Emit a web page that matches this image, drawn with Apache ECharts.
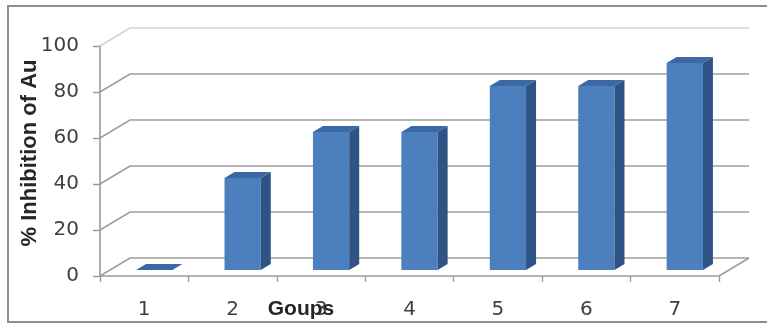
<!DOCTYPE html>
<html>
<head>
<meta charset="utf-8">
<script src="https://cdn.jsdelivr.net/npm/echarts@6/dist/echarts.min.js"></script>
<style>
  html, body { margin: 0; padding: 0; background: #ffffff; }
  #chart { width: 767px; height: 325px; }
</style>
</head>
<body>
<div id="chart"></div>
<script>
// Groups on the category axis
const categories = ['1', '2', '3', '4', '5', '6', '7'];
// % inhibition for each group
const inhibition = [0, 40, 60, 60, 80, 80, 90];
// value axis ticks
const yTicks = [0, 20, 40, 60, 80, 100];

// pseudo-3D depth of the plot box (pixels, towards the back wall)
const DX = 30, DY = -18;
const BAR_FRONT = '#4B7FBD', BAR_TOP = '#3C69A3', BAR_SIDE = '#2E5384';

const chart = echarts.init(document.getElementById('chart'));

function renderWall(params, api) {
  const cs = params.coordSys;
  const v = api.value(1);
  const y = api.coord([0, v])[1];
  const x0 = cs.x, x1 = cs.x + cs.width;
  const stroke = v === yTicks[yTicks.length - 1] ? '#d2d2d2' : '#9e9e9e';
  const children = [{
    type: 'polyline',
    shape: { points: [[x0, y], [x0 + DX, y + DY], [x1 + DX, y + DY]] },
    style: { stroke: stroke, lineWidth: 1.6, fill: null }
  }];
  if (v === yTicks[0]) {
    // right edge of the floor
    children.push({
      type: 'line',
      shape: { x1: x1, y1: y, x2: x1 + DX, y2: y + DY },
      style: { stroke: '#9e9e9e', lineWidth: 1.6 }
    });
  }
  return { type: 'group', children: children };
}

function renderBar(params, api) {
  const i = api.value(0), v = api.value(1);
  const base = api.coord([i, 0]);
  const top = api.coord([i, v]);
  const bw = api.size([1, 0])[0];
  const w = bw * 0.41;
  const ox = DX / 3, oy = DY / 3;
  const fx = base[0] - w / 2 + ox;
  const fy0 = base[1] + oy, fy1 = top[1] + oy;
  const children = [];
  if (fy0 - fy1 > 0.5) {
    children.push({
      type: 'rect',
      shape: { x: fx, y: fy1, width: w, height: fy0 - fy1 },
      style: { fill: BAR_FRONT }
    });
    children.push({
      type: 'polygon',
      shape: { points: [[fx + w, fy1], [fx + w + ox, fy1 + oy], [fx + w + ox, fy0 + oy], [fx + w, fy0]] },
      style: { fill: BAR_SIDE }
    });
  }
  children.push({
    type: 'polygon',
    shape: { points: [[fx, fy1], [fx + w, fy1], [fx + w + ox, fy1 + oy], [fx + ox, fy1 + oy]] },
    style: { fill: BAR_TOP }
  });
  return { type: 'group', children: children };
}

const option = {
  animation: false,
  backgroundColor: '#ffffff',
  grid: { left: 100, top: 46, width: 619, height: 230 },
  xAxis: {
    type: 'category',
    data: categories,
    axisLine: { show: true, lineStyle: { color: '#9a9a9a', width: 1.6 } },
    axisTick: { show: true, length: 6, lineStyle: { color: '#9a9a9a', width: 1.4 } },
    axisLabel: { color: '#404040', fontFamily: 'DejaVu Sans', fontSize: 20, margin: 24 },
    splitLine: { show: false }
  },
  yAxis: {
    type: 'value',
    min: 0,
    max: 100,
    interval: 20,
    axisLine: { show: true, lineStyle: { color: '#9a9a9a', width: 1.6 } },
    axisTick: { show: true, length: 7, lineStyle: { color: '#9a9a9a', width: 1.4 } },
    axisLabel: { color: '#404040', fontFamily: 'DejaVu Sans', fontSize: 20, margin: 21 },
    splitLine: { show: false }
  },
  graphic: [
    {
      type: 'rect',
      z: -10,
      silent: true,
      shape: { x: 8, y: 6, width: 790, height: 316 },
      style: { fill: null, stroke: '#8f8f8f', lineWidth: 2 }
    },
    {
      // value axis title
      type: 'text',
      z: 100,
      x: 30,
      y: 153,
      rotation: Math.PI / 2,
      style: {
        text: '% Inhibition of Au',
        fill: '#262626',
        font: 'bold 22px "Liberation Sans"',
        textAlign: 'center',
        textVerticalAlign: 'middle'
      }
    },
    {
      // category axis title
      type: 'text',
      z: 100,
      x: 301,
      y: 309,
      style: {
        text: 'Goups',
        fill: '#262626',
        font: 'bold 21px "Liberation Sans"',
        textAlign: 'center',
        textVerticalAlign: 'middle'
      }
    }
  ],
  series: [
    {
      type: 'custom',
      name: 'walls',
      clip: false,
      silent: true,
      z: 1,
      renderItem: renderWall,
      data: yTicks.map(v => [0, v])
    },
    {
      type: 'custom',
      name: '% Inhibition of Au',
      clip: false,
      z: 3,
      renderItem: renderBar,
      data: inhibition.map((v, i) => [i, v])
    }
  ]
};

chart.setOption(option);
</script>
</body>
</html>
